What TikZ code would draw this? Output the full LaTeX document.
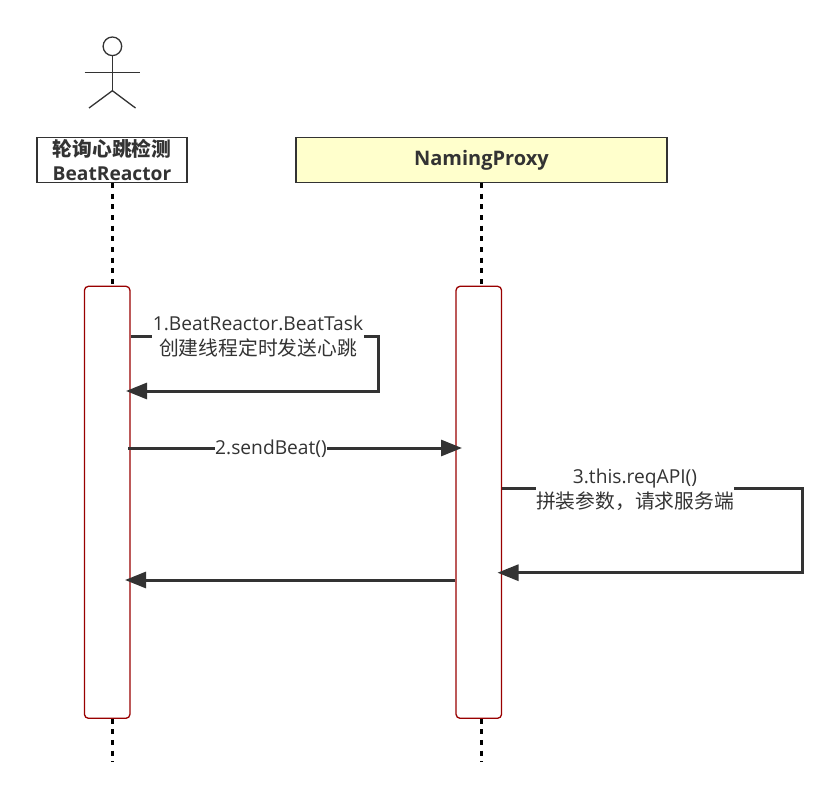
\documentclass[tikz,border=0pt]{standalone}
\usepackage{fontspec}
\setmainfont{Open Sans}
\newfontfamily\cjk[Scale=1.03]{Noto Sans CJK SC}
\usetikzlibrary{arrows.meta}
\definecolor{inkgray}{HTML}{333333}
\definecolor{barred}{HTML}{990000}
\definecolor{headyellow}{HTML}{FFFFCC}
\tikzset{
    headbox/.style={draw=inkgray, line width=1.5pt, minimum height=45pt, inner sep=0pt, align=center, text=inkgray, font=\fontsize{19.2}{24}\selectfont\bfseries},
    actbar/.style={draw=barred, fill=white, line width=1.3pt, rounded corners=4pt, minimum width=45.5pt, minimum height=432pt, inner sep=0pt},
    lifeline/.style={black, line width=3pt, dash pattern=on 5pt off 5.67pt},
    stickman/.style={draw=inkgray, line width=1.3pt},
    msgline/.style={draw=inkgray, line width=3pt, -{Triangle[length=21pt,width=16pt]}},
    msglabel/.style={fill=white, inner sep=0.5pt, align=center, text=inkgray, font=\fontsize{19.2}{25}\selectfont},
}
\begin{document}
\begin{tikzpicture}[x=1pt, y=-1pt]
    \useasboundingbox (0,0) rectangle (839,797);

    % Actor
    \node[stickman, circle, minimum size=18.6pt, inner sep=0pt] (head) at (112.4,46.3) {};
    \coordinate (hip) at (112.4,90.7);
    \draw[stickman] (head.south) -- (hip);
    \draw[stickman] (84.7,72.7) -- (140,72.7);
    \draw[stickman] (89,108) -- (hip) -- (135.5,108);

    % Head boxes
    \node[headbox, minimum width=150pt] (reactor) at (112,160) {{\cjk 轮询心跳检测}\\BeatReactor};
    \node[headbox, minimum width=371pt, fill=headyellow, font=\fontsize{20}{24}\selectfont\bfseries] (proxy) at (481.5,160) {NamingProxy};

    % Activation bars
    \node[actbar] (reactorbar) at (107.2,502.3) {};
    \node[actbar] (proxybar) at (478.8,502.3) {};

    % Lifelines
    \coordinate (reactorend) at (112.3,762);
    \coordinate (proxyend) at (481.7,762);
    \draw[lifeline] (112.3,183) -- (112.3,286);
    \draw[lifeline] (481.7,183) -- (481.7,286);
    \draw[lifeline] (112.3,718.5) -- (reactorend);
    \draw[lifeline] (481.7,718.5) -- (proxyend);

    % Messages
    \coordinate (turnone) at (378,336);
    \coordinate (backone) at (378,391);
    \coordinate (turnthree) at (802.5,488.5);
    \coordinate (backthree) at (802.5,572.7);
    \draw[msgline] (reactorbar.east |- turnone) -- (turnone) -- (backone) -- (126,391);
    \draw[msgline] (128,448) -- (462,448);
    \draw[msgline] (proxybar.east |- turnthree) -- (turnthree) -- (backthree) -- (497.5,572.7);
    \draw[msgline] (proxybar.west |- 0,580) -- (125,580);

    % Labels
    \node[msglabel] (labelone) at (258,337) {1.BeatReactor.BeatTask\\{\cjk 创建线程定时发送心跳}};
    \node[msglabel] (labeltwo) at (271,449) {2.sendBeat()};
    \node[msglabel] (labelthree) at (635,490) {3.this.reqAPI()\\{\cjk 拼装参数，请求服务端}};
\end{tikzpicture}
\end{document}
